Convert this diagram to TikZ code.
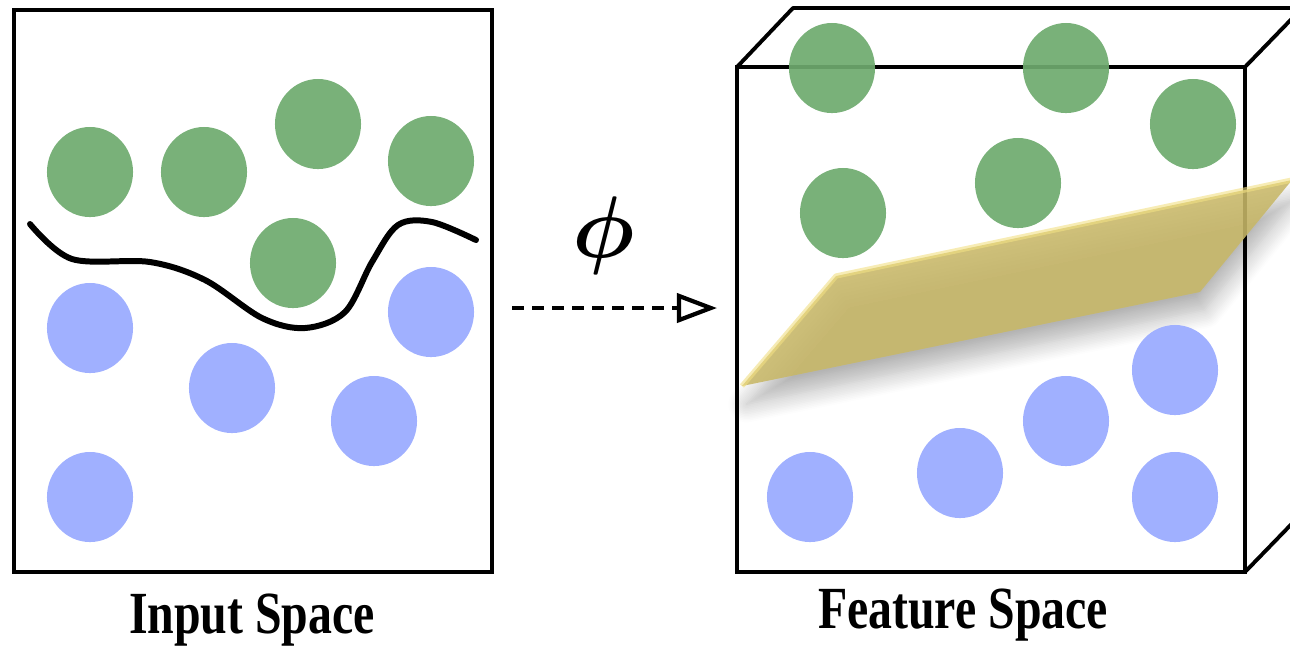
\documentclass[tikz,border=0pt]{standalone}
\usepackage{amsmath}
\usepackage{fontspec}
\newfontfamily\labelfont[FakeStretch=0.8]{Liberation Serif}
\usetikzlibrary{arrows.meta,shapes.geometric,shadows.blur}
\definecolor{dotgreen}{RGB}{110,170,110}
\definecolor{dotblue}{RGB}{160,176,255}
\definecolor{planeyellow}{RGB}{200,184,104}
\definecolor{planeedge}{RGB}{242,224,132}
\tikzset{>=Stealth,
	greendot/.style={ellipse, fill=dotgreen, fill opacity=0.92, minimum width=0.86cm, minimum height=0.9cm, inner sep=0pt},
	bluedot/.style={ellipse, fill=dotblue, minimum width=0.86cm, minimum height=0.9cm, inner sep=0pt},
	frame/.style={draw=black, line width=1.1pt},
	caption/.style={font=\labelfont\bfseries\fontsize{17}{17}\selectfont}}

\begin{document}
\begin{tikzpicture}[x=0.01cm, y=-0.01cm]
	\useasboundingbox (0,0) rectangle (1290,653);
	\clip (0,0) rectangle (1290,653);

	% input space
	\draw[frame] (14,10) rectangle (492,572);
	\node[greendot] (g1) at (90,172) {};
	\node[greendot] (g2) at (204,172) {};
	\node[greendot] (g3) at (318,124) {};
	\node[greendot] (g4) at (431,161) {};
	\node[greendot] (g5) at (293,263) {};
	\node[bluedot] (b1) at (90,328) {};
	\node[bluedot] (b2) at (431,312) {};
	\node[bluedot] (b3) at (232,388) {};
	\node[bluedot] (b4) at (374,421) {};
	\node[bluedot] (b5) at (90,497) {};
	\draw[line width=1.7pt, line cap=round] plot[smooth, tension=0.55] coordinates {(30,224) (72,259) (150,262) (205,280) (262,318) (305,328) (345,312) (372,262) (398,225) (432,222) (476,240)};
	\node[caption] (inlabel) at (252,620) {Input Space};

	% mapping
	\coordinate (mapfrom) at (512,308);
	\coordinate (mapto) at (717,308);
	\draw[line width=1.2pt, dash pattern=on 0.12cm off 0.08cm, -{Triangle[open, length=0.4cm, width=0.29cm]}] (mapfrom) -- (mapto);
	\node[font=\fontsize{40}{40}\selectfont] (phi) at (604,236) {$\boldsymbol{\phi}$};

	% feature space
	\draw[frame] (737,67) rectangle (1245,572);
	\draw[frame, line join=round] (737,67) -- (793,8) -- (1310,8);
	\draw[frame] (1245,67) -- (1310,0);
	\draw[frame] (1245,572) -- (1310,505);
	\node[greendot] (h1) at (832,68) {};
	\node[greendot] (h2) at (1066,68) {};
	\node[greendot] (h3) at (1193,124) {};
	\node[greendot] (h4) at (843,213) {};
	\node[greendot] (h5) at (1018,183) {};
	\fill[planeyellow, fill opacity=0.88, blur shadow={shadow xshift=0.3ex, shadow yshift=-1.2ex, shadow blur steps=12, shadow blur radius=1.2ex, shadow opacity=30}]
		(742,386) -- (836,276) -- (1292,180) -- (1200,292) -- cycle;
	\draw[planeedge, line width=1.5pt, opacity=0.6, line join=round] (742,386) -- (836,276) -- (1292,180);
	\node[bluedot] (c1) at (1175,370) {};
	\node[bluedot] (c2) at (1066,421) {};
	\node[bluedot] (c3) at (960,473) {};
	\node[bluedot] (c4) at (810,497) {};
	\node[bluedot] (c5) at (1175,497) {};
	\node[caption] (featlabel) at (963,615) {Feature Space};
\end{tikzpicture}
\end{document}
